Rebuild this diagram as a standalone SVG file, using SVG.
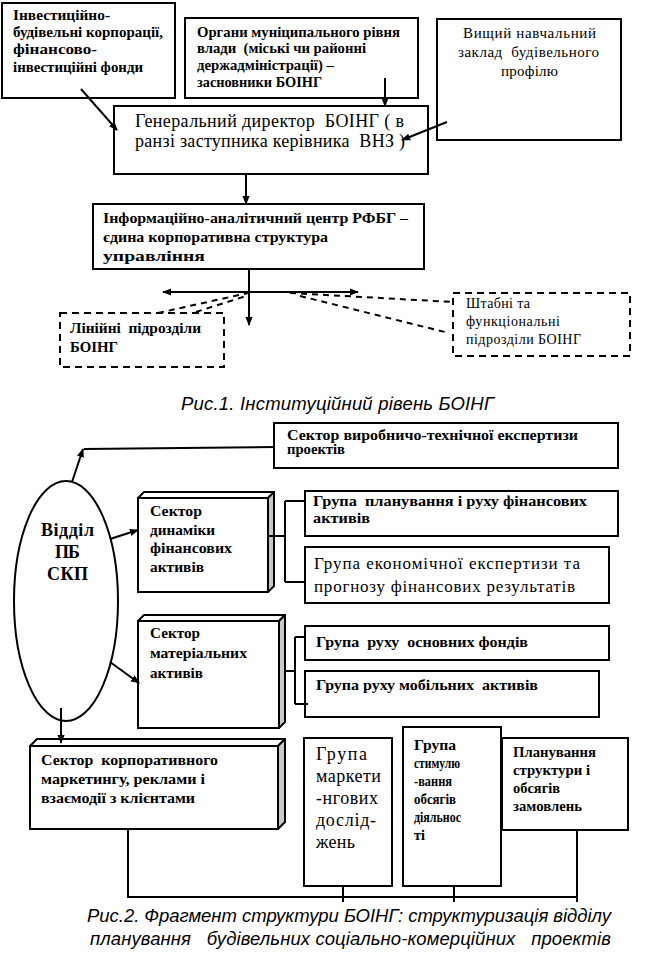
<svg xmlns="http://www.w3.org/2000/svg" width="665" height="975" viewBox="0 0 665 975">
<defs>
<marker id="ah" viewBox="0 0 10 10" refX="9" refY="5" markerWidth="9" markerHeight="9" orient="auto" markerUnits="userSpaceOnUse"><path d="M0,1 L10,5 L0,9 z" fill="#000"/></marker>
<style>
.box{fill:#fff;stroke:#000;stroke-width:2}
.side{fill:#c8c8c8;stroke:#000;stroke-width:2;stroke-linejoin:round}
.top{fill:#fff;stroke:#000;stroke-width:2;stroke-linejoin:round}
.dbox{fill:#fff;stroke:#000;stroke-width:2;stroke-dasharray:7,5}
.dl{fill:none;stroke:#000;stroke-width:2;stroke-dasharray:6,5}
.ln{fill:none;stroke:#000;stroke-width:2}
.b{font-family:"Liberation Serif","Times New Roman",serif;font-weight:bold;font-size:14px;fill:#000}
.r{font-family:"Liberation Serif","Times New Roman",serif;font-size:15px;fill:#000}
.cap{font-family:"Liberation Sans",Arial,sans-serif;font-style:italic;font-size:18.5px;fill:#000}
</style>
</defs>
<rect width="665" height="975" fill="#fff"/>

<g id="n-invest">
<rect class="box" x="2" y="3" width="173" height="95"/>
<text class="b" x="13" y="20" textLength="97" lengthAdjust="spacingAndGlyphs">Інвестиційно-</text>
<text class="b" x="13" y="37" textLength="150" lengthAdjust="spacingAndGlyphs">будівельні корпорації,</text>
<text class="b" x="13" y="54" textLength="84" lengthAdjust="spacingAndGlyphs">фінансово-</text>
<text class="b" x="13" y="72" textLength="130" lengthAdjust="spacingAndGlyphs">інвестиційні фонди</text>
</g>

<g id="n-organy">
<rect class="box" x="185" y="18" width="233" height="80"/>
<text class="b" x="197" y="37" textLength="203" lengthAdjust="spacingAndGlyphs">Органи муніципального рівня</text>
<text class="b" x="197" y="53" textLength="169" lengthAdjust="spacingAndGlyphs" xml:space="preserve">влади  (міські чи районні</text>
<text class="b" x="197" y="70" textLength="137" lengthAdjust="spacingAndGlyphs">держадміністрації) –</text>
<text class="b" x="197" y="87" textLength="125" lengthAdjust="spacingAndGlyphs">засновники БОІНГ</text>
</g>

<g id="n-vnz">
<rect class="box" x="437" y="19" width="184" height="121"/>
<text class="r" x="463" y="38" textLength="133">Вищий навчальний</text>
<text class="r" x="458" y="57" textLength="141" xml:space="preserve">заклад  будівельного</text>
<text class="r" x="501" y="76" textLength="57">профілю</text>
</g>

<g id="n-gendir">
<rect class="box" x="114" y="106" width="314" height="68"/>
<text class="r" x="135" y="127" style="font-size:18px" textLength="269" xml:space="preserve">Генеральний директор  БОІНГ ( в</text>
<text class="r" x="135" y="147" style="font-size:18px" textLength="270" xml:space="preserve">ранзі заступника керівника  ВНЗ )</text>
</g>

<g id="n-info">
<rect class="box" x="93" y="204" width="331" height="65"/>
<text class="b" x="103" y="223" style="font-size:15.5px" textLength="305" lengthAdjust="spacingAndGlyphs">Інформаційно-аналітичний центр РФБГ –</text>
<text class="b" x="103" y="242" style="font-size:15.5px" textLength="225" lengthAdjust="spacingAndGlyphs">єдина корпоративна структура</text>
<text class="b" x="103" y="261" style="font-size:15.5px" textLength="102" lengthAdjust="spacingAndGlyphs">управління</text>
</g>

<g id="n-liniyni">
<rect class="dbox" x="60" y="313" width="164" height="54"/>
<text class="b" x="70" y="333" textLength="131" lengthAdjust="spacingAndGlyphs" xml:space="preserve">Лінійні  підрозділи</text>
<text class="b" x="70" y="352" textLength="48" lengthAdjust="spacingAndGlyphs">БОІНГ</text>
</g>

<g id="n-shtabni">
<rect class="dbox" x="453" y="293" width="177" height="63"/>
<text class="r" x="466" y="308" style="font-size:14px" textLength="64">Штабні та</text>
<text class="r" x="466" y="326" style="font-size:14px" textLength="94">функціональні</text>
<text class="r" x="466" y="344" style="font-size:14px" textLength="115">підрозділи БОІНГ</text>
</g>

<text class="cap" x="181" y="410" textLength="313">Рис.1. Інституційний рівень БОІНГ</text>

<g id="n-vyrob">
<rect class="box" x="274" y="423" width="344" height="45"/>
<text class="b" x="287" y="440" textLength="291" lengthAdjust="spacingAndGlyphs">Сектор виробничо-технічної експертизи</text>
<text class="b" x="287" y="454" textLength="58" lengthAdjust="spacingAndGlyphs">проектів</text>
</g>

<g id="n-viddil">
<ellipse cx="66" cy="601" rx="52" ry="120" fill="#fff" stroke="#000" stroke-width="2"/>
<text class="b" x="41" y="536" style="font-size:18px" textLength="53">Відділ</text>
<text class="b" x="55" y="558" style="font-size:18px" textLength="25">ПБ</text>
<text class="b" x="47" y="580" style="font-size:18px" textLength="41">СКП</text>
</g>

<g id="n-dynamika">
<polygon class="top" points="138,498 144,492 274,492 268,498"/>
<polygon class="side" points="268,498 274,492 274,586 268,592"/>
<rect class="box" x="138" y="498" width="130" height="94"/>
<text class="b" x="150" y="516" style="font-size:14.5px" textLength="52" lengthAdjust="spacingAndGlyphs">Сектор</text>
<text class="b" x="150" y="535" style="font-size:14.5px" textLength="65" lengthAdjust="spacingAndGlyphs">динаміки</text>
<text class="b" x="150" y="553" style="font-size:14.5px" textLength="82" lengthAdjust="spacingAndGlyphs">фінансових</text>
<text class="b" x="150" y="572" style="font-size:14.5px" textLength="54" lengthAdjust="spacingAndGlyphs">активів</text>
</g>

<g id="n-plan-fin">
<rect class="box" x="305" y="491" width="313" height="45"/>
<text class="b" x="313" y="506" textLength="274" lengthAdjust="spacingAndGlyphs" xml:space="preserve">Група  планування і руху фінансових</text>
<text class="b" x="313" y="523" textLength="57" lengthAdjust="spacingAndGlyphs">активів</text>
</g>

<g id="n-ekon">
<rect class="box" x="305" y="547" width="304" height="56"/>
<text class="r" x="314" y="569" style="font-size:17px" textLength="266">Група економічної експертизи та</text>
<text class="r" x="314" y="592" style="font-size:17px" textLength="261">прогнозу фінансових результатів</text>
</g>

<g id="n-material">
<polygon class="top" points="138,621 144,615 285,615 279,621"/>
<polygon class="side" points="279,621 285,615 285,722 279,728"/>
<rect class="box" x="138" y="621" width="141" height="107"/>
<text class="b" x="150" y="638" style="font-size:14.5px" textLength="50" lengthAdjust="spacingAndGlyphs">Сектор</text>
<text class="b" x="150" y="658" style="font-size:14.5px" textLength="97" lengthAdjust="spacingAndGlyphs">матеріальних</text>
<text class="b" x="150" y="678" style="font-size:14.5px" textLength="53" lengthAdjust="spacingAndGlyphs">активів</text>
</g>

<g id="n-osnovni">
<rect class="box" x="305" y="626" width="304" height="34"/>
<text class="b" x="316" y="647" textLength="212" lengthAdjust="spacingAndGlyphs" xml:space="preserve">Група  руху  основних фондів</text>
</g>

<g id="n-mobilni">
<rect class="box" x="305" y="671" width="294" height="46"/>
<text class="b" x="316" y="690" textLength="222" lengthAdjust="spacingAndGlyphs" xml:space="preserve">Група руху мобільних  активів</text>
</g>

<g id="n-korp">
<polygon class="top" points="30,746 37,739 285,739 278,746"/>
<polygon class="side" points="278,746 285,739 285,822 278,829"/>
<rect class="box" x="30" y="746" width="248" height="83"/>
<text class="b" x="41" y="765" textLength="177" lengthAdjust="spacingAndGlyphs" xml:space="preserve">Сектор  корпоративного</text>
<text class="b" x="41" y="784" textLength="164" lengthAdjust="spacingAndGlyphs">маркетингу, реклами і</text>
<text class="b" x="41" y="803" textLength="154" lengthAdjust="spacingAndGlyphs">взаємодії з клієнтами</text>
</g>

<g id="n-market">
<rect class="box" x="304" y="738" width="88" height="148"/>
<text class="r" x="316" y="760" style="font-size:18px" textLength="51">Група</text>
<text class="r" x="316" y="782" style="font-size:18px" textLength="65">маркети</text>
<text class="r" x="316" y="804" style="font-size:18px" textLength="62">-нгових</text>
<text class="r" x="316" y="826" style="font-size:18px" textLength="60">дослід-</text>
<text class="r" x="316" y="848" style="font-size:18px" textLength="39">жень</text>
</g>

<g id="n-stymul">
<rect class="box" x="403" y="727" width="98" height="159"/>
<text class="b" x="414" y="750" style="font-size:14px" textLength="42" lengthAdjust="spacingAndGlyphs">Група</text>
<text class="b" x="414" y="768" style="font-size:14px" textLength="46" lengthAdjust="spacingAndGlyphs">стимулю</text>
<text class="b" x="414" y="786" style="font-size:14px" textLength="38" lengthAdjust="spacingAndGlyphs">-вання</text>
<text class="b" x="414" y="804" style="font-size:14px" textLength="42" lengthAdjust="spacingAndGlyphs">обсягів</text>
<text class="b" x="414" y="822" style="font-size:14px" textLength="47" lengthAdjust="spacingAndGlyphs">діяльнос</text>
<text class="b" x="414" y="840" style="font-size:14px" textLength="11" lengthAdjust="spacingAndGlyphs">ті</text>
</g>

<g id="n-planuv">
<rect class="box" x="502" y="738" width="126" height="92"/>
<text class="b" x="513" y="757" textLength="83" lengthAdjust="spacingAndGlyphs">Планування</text>
<text class="b" x="513" y="775" textLength="77" lengthAdjust="spacingAndGlyphs">структури і</text>
<text class="b" x="513" y="793" textLength="47" lengthAdjust="spacingAndGlyphs">обсягів</text>
<text class="b" x="513" y="811" textLength="69" lengthAdjust="spacingAndGlyphs">замовлень</text>
</g>

<text class="cap" x="87" y="922" textLength="524">Рис.2. Фрагмент структури БОІНГ: структуризація відділу</text>
<text class="cap" x="90" y="945" textLength="521" xml:space="preserve">планування   будівельних соціально-комерційних   проектів</text>

<g id="connectors">
<line class="ln" x1="81" y1="89" x2="117" y2="130" marker-end="url(#ah)"/>
<line class="ln" x1="385" y1="78" x2="385" y2="106" marker-end="url(#ah)"/>
<line class="ln" x1="447" y1="122" x2="402" y2="140" marker-end="url(#ah)"/>
<line class="ln" x1="246" y1="174" x2="246" y2="204" marker-end="url(#ah)"/>
<line class="ln" x1="249" y1="269" x2="249" y2="325" marker-end="url(#ah)"/>
<line class="ln" x1="249" y1="292" x2="163" y2="292" marker-end="url(#ah)"/>
<line class="ln" x1="249" y1="292" x2="358" y2="292" marker-end="url(#ah)"/>
<line class="dl" x1="158" y1="313" x2="248" y2="293"/>
<line class="dl" x1="196" y1="312" x2="246" y2="296"/>
<line class="dl" x1="290" y1="293" x2="453" y2="302"/>
<line class="dl" x1="300" y1="296" x2="445" y2="332"/>
<line class="ln" x1="274" y1="447" x2="84" y2="449"/>
<line class="ln" x1="72" y1="482" x2="83" y2="449" marker-end="url(#ah)"/>
<line class="ln" x1="110" y1="539" x2="138" y2="530" marker-end="url(#ah)"/>
<path class="ln" d="M268,536 H285 M285,501 V582 M285,501 H305 M285,582 H305"/>
<line class="ln" x1="110" y1="662" x2="139" y2="683" marker-end="url(#ah)"/>
<path class="ln" d="M285,671 H295 M295,637 V704 M295,637 H305 M295,704 H308"/>
<line class="ln" x1="61" y1="708" x2="61" y2="743" marker-end="url(#ah)"/>
<path class="ln" d="M128,829 V897 H578 M343,886 V902 M454,886 V902 M577,830 V902"/>
</g>
</svg>
